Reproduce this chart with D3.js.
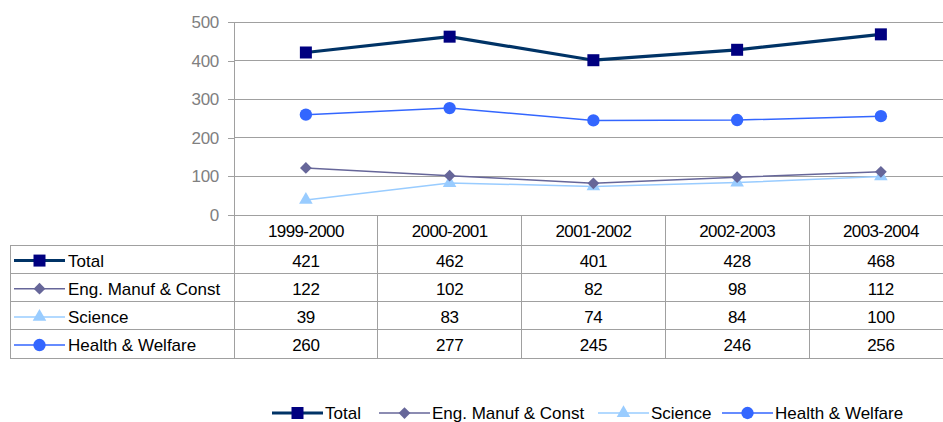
<!DOCTYPE html>
<html><head><meta charset="utf-8">
<script src="https://cdn.jsdelivr.net/npm/d3@7"></script>
<style>
body{margin:0;background:#fff;}
svg{display:block;font-family:"Liberation Sans",Arial,sans-serif;}
</style></head>
<body>
<svg id="c" width="943" height="422"></svg>
<script>
const categories = ["1999-2000","2000-2001","2001-2002","2002-2003","2003-2004"];
const seriesNames = ["Total","Eng. Manuf & Const","Science","Health & Welfare"];
const total = [421,462,401,428,468];
const eng = [122,102,82,98,112];
const science = [39,83,74,84,100];
const health = [260,277,245,246,256];
const yTicks = [0,100,200,300,400,500];

const seriesValues = [total, eng, science, health];
const styles = [
  {line:"#003366", marker:"#000080", w:3.2, sym:d3.symbolSquare, size:144},
  {line:"#666699", marker:"#666699", w:1.5, sym:d3.symbolDiamond2, size:88},
  {line:"#99ccff", marker:"#99ccff", w:1.5, sym:d3.symbolTriangle, size:80},
  {line:"#3366ff", marker:"#3366ff", w:1.5, sym:d3.symbolCircle, size:120}
];

const svg = d3.select("#c");
const plotLeft = 234, plotTop = 22, zeroY = 215, colW = 143.75;
const x = d3.scaleBand().domain(categories).range([plotLeft, plotLeft + colW*categories.length]).padding(0);
const y = d3.scaleLinear().domain([0,500]).range([zeroY, plotTop]);
const grid = "#a0a0a0";
const fs = "17px";

// gridlines
svg.append("g").selectAll("line").data(yTicks.filter(d=>d>0)).join("line")
  .attr("x1", plotLeft).attr("x2", 943).attr("y1", d=>y(d)).attr("y2", d=>y(d))
  .attr("stroke", grid).attr("stroke-width",1).attr("shape-rendering","crispEdges");

// y axis
const yAxis = d3.axisLeft(y).tickValues(yTicks).tickSize(6).tickPadding(9);
const ga = svg.append("g").attr("transform",`translate(${plotLeft},0)`).call(yAxis);
ga.select(".domain").remove();
ga.selectAll(".tick line").attr("stroke",grid).attr("shape-rendering","crispEdges");
ga.selectAll(".tick text").attr("fill","#808080").attr("font-size","17px")
  .attr("letter-spacing","-0.3px")
  .attr("font-family","Liberation Sans, Arial, sans-serif");
svg.append("line").attr("x1",plotLeft).attr("x2",plotLeft).attr("y1",plotTop).attr("y2",358)
  .attr("stroke",grid).attr("shape-rendering","crispEdges");

// table
const rowY = i => 245.5 + i*28.15;
const rowH = 28.15;
const tableBottom = rowY(seriesNames.length);
svg.append("line").attr("x1",plotLeft).attr("x2",943).attr("y1",zeroY).attr("y2",zeroY)
  .attr("stroke",grid).attr("shape-rendering","crispEdges");
for (let i=0;i<=seriesNames.length;i++){
  svg.append("line").attr("x1",10).attr("x2",943).attr("y1",rowY(i)).attr("y2",rowY(i))
    .attr("stroke",grid).attr("shape-rendering","crispEdges");
}
svg.append("line").attr("x1",10).attr("x2",10).attr("y1",rowY(0)).attr("y2",tableBottom)
  .attr("stroke",grid).attr("shape-rendering","crispEdges");
svg.append("g").selectAll("line").data(categories).join("line")
  .attr("x1",d=>x(d)+x.bandwidth()).attr("x2",d=>x(d)+x.bandwidth())
  .attr("y1",zeroY).attr("y2",tableBottom)
  .attr("stroke",grid).attr("shape-rendering","crispEdges");

// header labels
svg.append("g").selectAll("text").data(categories).join("text")
  .attr("x",d=>x(d)+x.bandwidth()/2).attr("y",231).attr("dy","0.35em")
  .attr("text-anchor","middle").attr("font-size",fs).attr("fill","#000")
  .attr("letter-spacing","-0.6px").text(d=>d);

// table rows
seriesNames.forEach((name,i)=>{
  const cy = rowY(i) + rowH/2 + 1;
  const st = styles[i];
  svg.append("line").attr("x1",14).attr("x2",65).attr("y1",cy).attr("y2",cy)
    .attr("stroke",st.line).attr("stroke-width",i===0?3:1.5);
  svg.append("path").attr("d",d3.symbol(st.sym, st.size)())
    .attr("transform",`translate(39.5,${cy})`).attr("fill",st.marker);
  svg.append("text").attr("x",68).attr("y",cy).attr("dy","0.35em")
    .attr("font-size",fs).attr("fill","#000").text(name);
  svg.append("g").selectAll("text").data(seriesValues[i]).join("text")
    .attr("x",(d,j)=>x(categories[j])+x.bandwidth()/2).attr("y",cy).attr("dy","0.35em")
    .attr("text-anchor","middle").attr("font-size",fs).attr("fill","#000")
    .attr("letter-spacing","-0.3px").text(d=>d);
});

// lines (draw order: health, science, eng, total)
const line = d3.line().x((d,j)=>x(categories[j])+x.bandwidth()/2).y(d=>y(d));
[3,2,1,0].forEach(i=>{
  const st = styles[i];
  svg.append("path").datum(seriesValues[i]).attr("d",line)
    .attr("fill","none").attr("stroke",st.line).attr("stroke-width",st.w);
  svg.append("g").selectAll("path").data(seriesValues[i]).join("path")
    .attr("d",d3.symbol(st.sym, st.size)())
    .attr("transform",(d,j)=>`translate(${x(categories[j])+x.bandwidth()/2},${y(d)})`)
    .attr("fill",st.marker);
});

// bottom legend
const legX = [272, 379, 598, 722];
seriesNames.forEach((name,i)=>{
  const st = styles[i], cy = 413, lx = legX[i];
  svg.append("line").attr("x1",lx).attr("x2",lx+51).attr("y1",cy).attr("y2",cy)
    .attr("stroke",st.line).attr("stroke-width",i===0?3:1.5);
  svg.append("path").attr("d",d3.symbol(st.sym, st.size)())
    .attr("transform",`translate(${lx+25.5},${cy})`).attr("fill",st.marker);
  svg.append("text").attr("x",lx+53).attr("y",cy).attr("dy","0.35em")
    .attr("font-size",fs).attr("fill","#000").text(name);
});
</script>
</body></html>
